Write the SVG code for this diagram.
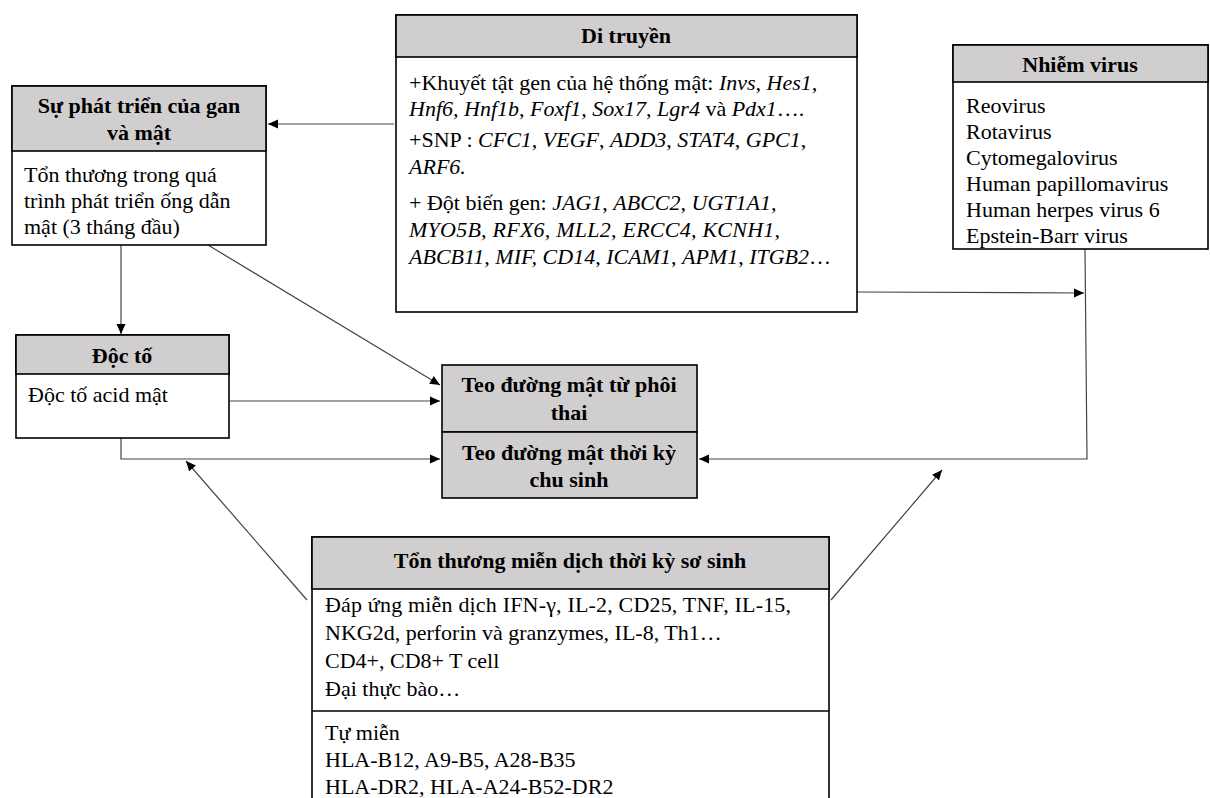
<svg xmlns="http://www.w3.org/2000/svg" width="1210" height="798" viewBox="0 0 1210 798">
<defs>
<marker id="ah" viewBox="0 0 10 10" refX="10" refY="5" markerWidth="10" markerHeight="10" markerUnits="userSpaceOnUse" orient="auto">
<path d="M0,0.5 L10,5 L0,9.5 z" fill="#000"/>
</marker>
<style>
.box{fill:#fff;stroke:#000;stroke-width:1.6}
.hd{fill:#d0cece;stroke:#000;stroke-width:1.6}
.sep{stroke:#000;stroke-width:1.6}
.t{font-family:"Liberation Serif","Times New Roman",serif;font-size:22px;fill:#000}
.b{font-family:"Liberation Serif","Times New Roman",serif;font-size:22px;font-weight:bold;fill:#000;text-anchor:middle}
.i{font-style:italic}
.c{fill:none;stroke:#444;stroke-width:1.2;marker-end:url(#ah)}
</style>
</defs>
<rect width="1210" height="798" fill="#fff"/>

<g id="connectors">
<path class="c" d="M394,124 L268,124"/>
<path class="c" d="M121,245 L121,334"/>
<path class="c" d="M208,245 L440,385"/>
<path class="c" d="M230,401 L440,401"/>
<path class="c" d="M121,438 L121,459 L440,459"/>
<path class="c" d="M857,292 L1084,293"/>
<path class="c" d="M1085,249 L1087,459 L699,459"/>
<path class="c" d="M307,600 L186,461"/>
<path class="c" d="M831,600 L942,470"/>
</g>

<g id="node-su-phat-trien">
<rect class="box" x="12" y="86" width="254" height="159"/>
<rect class="hd" x="12" y="86" width="254" height="65"/>
<text class="b" x="139" y="113">Sự phát triển của gan</text>
<text class="b" x="139" y="140">và mật</text>
<text class="t" x="24" y="182">Tổn thương trong quá</text>
<text class="t" x="24" y="208">trình phát triển ống dẫn</text>
<text class="t" x="24" y="234">mật (3 tháng đầu)</text>
</g>

<g id="node-di-truyen">
<rect class="box" x="396" y="15" width="461" height="297"/>
<rect class="hd" x="396" y="15" width="461" height="42"/>
<text class="b" x="626" y="43">Di truyền</text>
<text class="t" x="409" y="90">+Khuyết tật gen của hệ thống mật: <tspan class="i">Invs, Hes1,</tspan></text>
<text class="t" x="409" y="116"><tspan class="i">Hnf6, Hnf1b, Foxf1, Sox17, Lgr4</tspan> và <tspan class="i">Pdx1</tspan>….</text>
<text class="t" x="409" y="147">+SNP : <tspan class="i">CFC1</tspan>, <tspan class="i">VEGF</tspan>, <tspan class="i">ADD3</tspan>, <tspan class="i">STAT4</tspan>, <tspan class="i">GPC1</tspan>,</text>
<text class="t" x="409" y="174"><tspan class="i">ARF6.</tspan></text>
<text class="t" x="409" y="210">+ Đột biến gen: <tspan class="i">JAG1</tspan>, <tspan class="i">ABCC2, UGT1A1,</tspan></text>
<text class="t i" x="409" y="237" textLength="371" lengthAdjust="spacing">MYO5B, RFX6, MLL2, ERCC4, KCNH1,</text>
<text class="t" x="409" y="264"><tspan class="i">ABCB11, MIF, CD14</tspan>, <tspan class="i">ICAM1</tspan>, <tspan class="i">APM1</tspan>, <tspan class="i">ITGB2</tspan>…</text>
</g>

<g id="node-nhiem-virus">
<rect class="box" x="953" y="45" width="255" height="204"/>
<rect class="hd" x="953" y="45" width="255" height="37"/>
<text class="b" x="1080" y="72">Nhiễm virus</text>
<text class="t" x="966" y="113">Reovirus</text>
<text class="t" x="966" y="139">Rotavirus</text>
<text class="t" x="966" y="165">Cytomegalovirus</text>
<text class="t" x="966" y="191">Human papillomavirus</text>
<text class="t" x="966" y="217">Human herpes virus 6</text>
<text class="t" x="966" y="243">Epstein-Barr virus</text>
</g>

<g id="node-doc-to">
<rect class="box" x="16" y="335" width="213" height="103"/>
<rect class="hd" x="16" y="335" width="213" height="39"/>
<text class="b" x="122" y="363">Độc tố</text>
<text class="t" x="28" y="402">Độc tố acid mật</text>
</g>

<g id="node-teo-duong-mat">
<rect class="hd" x="442" y="365" width="255" height="67"/>
<rect class="hd" x="442" y="432" width="255" height="66"/>
<text class="b" x="569" y="392">Teo đường mật từ phôi</text>
<text class="b" x="569" y="420">thai</text>
<text class="b" x="569" y="460">Teo đường mật thời kỳ</text>
<text class="b" x="569" y="487">chu sinh</text>
</g>

<g id="node-ton-thuong-mien-dich">
<rect class="box" x="312" y="537" width="517" height="280"/>
<rect class="hd" x="312" y="537" width="517" height="52"/>
<line class="sep" x1="312" y1="711" x2="829" y2="711"/>
<text class="b" x="570" y="568">Tổn thương miễn dịch thời kỳ sơ sinh</text>
<text class="t" x="325" y="612" textLength="466" lengthAdjust="spacing">Đáp ứng miễn dịch IFN-γ, IL-2, CD25, TNF, IL-15,</text>
<text class="t" x="325" y="640">NKG2d, perforin và granzymes, IL-8, Th1…</text>
<text class="t" x="325" y="668">CD4+, CD8+ T cell</text>
<text class="t" x="325" y="696">Đại thực bào…</text>
<text class="t" x="325" y="740">Tự miễn</text>
<text class="t" x="325" y="767">HLA-B12, A9-B5, A28-B35</text>
<text class="t" x="325" y="794">HLA-DR2, HLA-A24-B52-DR2</text>
</g>
</svg>
